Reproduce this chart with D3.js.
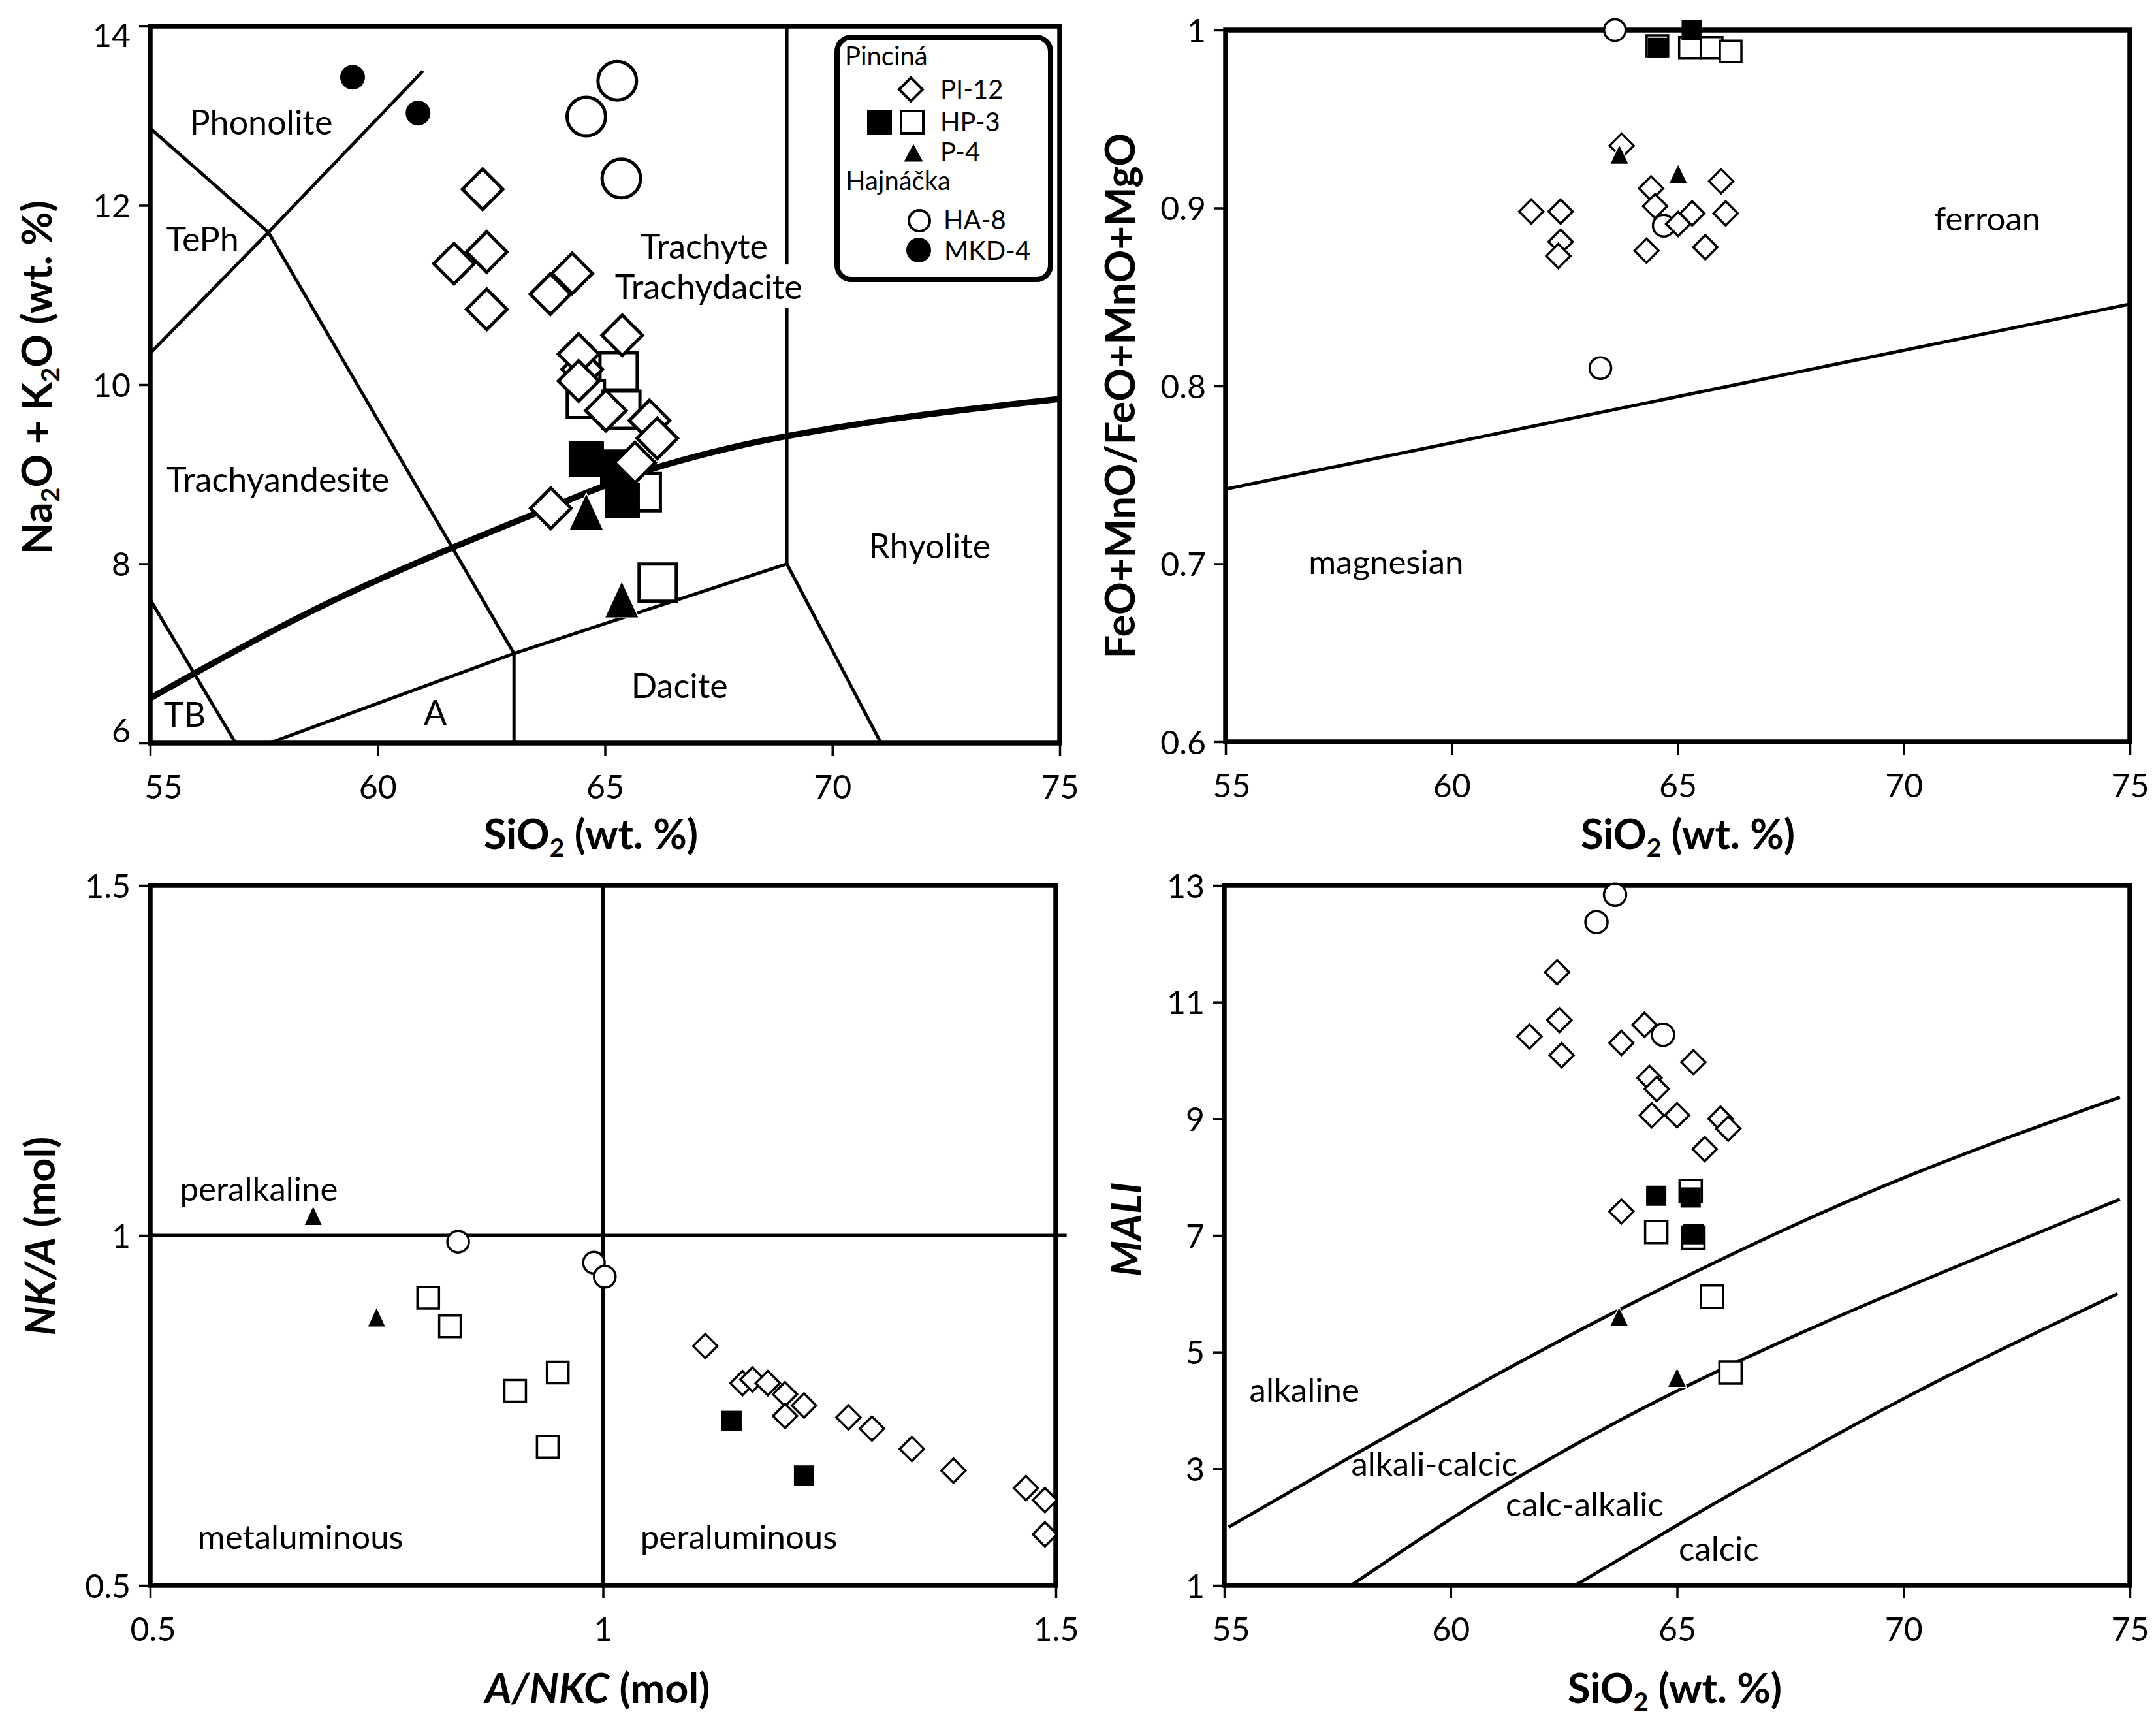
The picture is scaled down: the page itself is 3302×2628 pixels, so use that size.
<!DOCTYPE html>
<html><head><meta charset="utf-8">
<script src="https://cdn.jsdelivr.net/npm/d3@7"></script>
<style>
body{margin:0;background:#fff}
text{font-family:Lato,'Open Sans',sans-serif;fill:#000}
</style>
</head><body>
<script>
// ================= DATA =================
const sio2Ticks = [55, 60, 65, 70, 75];
const tasYTicks = [6, 8, 10, 12, 14];
const feYTicks = [0.6, 0.7, 0.8, 0.9, 1];
const asiTicks = [0.5, 1, 1.5];
const maliYTicks = [1, 3, 5, 7, 9, 11, 13];

// --- Panel A: TAS (SiO2 vs Na2O+K2O) ---
const tasPI12 = [[64.50,10.17],[62.31,12.18],[62.40,11.48],[61.68,11.35],[62.40,10.84],[63.80,11.01],[64.28,11.24],
  [65.38,10.55],[64.42,10.34],[64.42,10.04],[65.02,9.71],[65.98,9.60],[66.15,9.40],[65.66,9.13],[63.81,8.62]];
const tasHP3Open = [[65.30,10.15],[64.58,9.84],[65.36,9.72],[65.81,8.80],[66.16,7.79]];
const tasHP3Filled = [[64.59,9.17],[65.28,9.08],[65.38,8.71]];
const tasP4 = [[64.59,8.58],[65.37,7.60]];
const tasHA8 = [[65.27,13.39],[64.59,12.99],[65.36,12.30]];
const tasMKD4 = [[59.45,13.43],[60.89,13.03]];
const tasBoundaries = [
  [[55,12.86],[57.6,11.7],[63,7]],
  [[55,10.35],[57.6,11.7],[61,13.5]],
  [[55,7.6],[56.88,6]],
  [[57.62,6],[63,7],[69,8],[71.07,6]],
  [[63,6],[63,7]],
  [[69,8],[69,14]]
];
const tasAlkalineCurve = [[55,6.5],[57,7.07],[59,7.6],[61.57,8.17],[63.18,8.5],[64.61,8.8],[66.06,9.08],[67.92,9.32],[69.02,9.43],[71.46,9.64],[75,9.84]];
const tasFieldLabels = [
  ["Phonolite",57.44,12.93],["TePh",56.15,11.62],["Trachyte",67.18,11.54],["Trachydacite",67.28,11.09],
  ["Trachyandesite",57.81,8.94],["Rhyolite",72.14,8.20],["Dacite",66.64,6.64],["A",61.27,6.34],["TB",55.76,6.32]
];

// --- Panel B: Fe-number ---
const fePI12 = [[63.76,0.935],[61.76,0.898],[62.41,0.898],[62.41,0.881],[62.36,0.873],[64.41,0.911],[64.50,0.901],
  [64.31,0.876],[65.01,0.891],[65.32,0.897],[65.61,0.878],[65.96,0.915],[66.06,0.897]];
const feHP3Open = [[64.55,0.991],[65.27,0.990],[65.75,0.990],[66.17,0.988]];
const feHP3Filled = [[64.56,0.990],[65.31,1.000]];
const feP4 = [[63.71,0.930],[65.01,0.919]];
const feHA8 = [[63.61,1.000],[64.69,0.890],[63.29,0.810]];
const feBoundary = [[55,0.742],[75,0.846]];
const feFieldLabels = [["ferroan",71.85,0.894],["magnesian",58.55,0.701]];

// --- Panel C: A/NKC vs NK/A ---
const asiPI12 = [[1.113,0.842],[1.154,0.789],[1.165,0.794],[1.182,0.789],[1.201,0.773],[1.201,0.742],[1.222,0.757],
  [1.271,0.740],[1.297,0.724],[1.341,0.695],[1.387,0.664],[1.467,0.639],[1.488,0.622],[1.488,0.573]];
const asiHP3Open = [[0.807,0.911],[0.831,0.870],[0.950,0.804],[0.903,0.778],[0.939,0.698]];
const asiHP3Filled = [[1.142,0.735],[1.222,0.657]];
const asiP4 = [[0.680,1.028],[0.750,0.883]];
const asiHA8 = [[0.840,0.991],[0.990,0.961],[1.002,0.941]];
const asiBoundaries = [[[0.5,1],[1.512,1]],[[1,0.5],[1,1.5]]];
const asiFieldLabels = [["peralkaline",0.620,1.067],["metaluminous",0.666,0.569],["peraluminous",1.150,0.569]];

// --- Panel D: MALI ---
const maliPI12 = [[62.35,11.51],[62.40,10.69],[61.74,10.41],[62.45,10.09],[63.77,10.30],[64.28,10.61],[65.36,9.97],
  [64.39,9.70],[64.55,9.51],[64.44,9.06],[65.00,9.06],[65.96,9.00],[66.13,8.83],[65.61,8.48],[63.77,7.41]];
const maliHP3Open = [[65.30,7.76],[65.36,6.96],[64.54,7.06],[65.77,5.95],[66.18,4.65]];
const maliHP3Filled = [[64.54,7.68],[65.30,7.65],[65.36,7.02]];
const maliP4 = [[63.72,5.60],[65.00,4.56]];
const maliHA8 = [[63.63,12.84],[63.22,12.37],[64.69,10.44]];
const maliBoundaries = [
  [[55.1,2.0],[58,3.3],[60.5,4.4],[63,5.45],[65.5,6.42],[68,7.33],[70,8.0],[72.5,8.74],[74.78,9.37]],
  [[57.8,1.0],[60.5,2.42],[63.1,3.58],[65.3,4.47],[68.2,5.5],[70.8,6.35],[74.78,7.62]],
  [[62.75,1.0],[65.66,2.34],[68.24,3.47],[70.81,4.55],[74.73,6.0]]
];
const maliFieldLabels = [["alkaline",56.77,4.35],["alkali-calcic",59.64,3.09],["calc-alkalic",62.96,2.39],["calcic",65.92,1.63]];

// ================= DRAWING =================
const svg = d3.select('body').append('svg').attr('width',3302).attr('height',2628);
svg.append('rect').attr('width',3302).attr('height',2628).attr('fill','#fff');

const shapes = {
  diamond: h => `M0,${-h}L${h},0L0,${h}L${-h},0Z`,
  square: s => `M${-s/2},${-s/2}h${s}v${s}h${-s}Z`,
  triangle: (w,h) => `M0,${-h/2}L${w/2},${h/2}L${-w/2},${h/2}Z`
};

function rich(sel, parts){
  parts.forEach(p=>{
    const ts = sel.append('tspan').text(p.t);
    if(p.sub){ ts.attr('font-size','0.62em').attr('dy', p.dy); }
    if(p.back){ ts.attr('dy', -p.back); }
    if(p.it){ ts.attr('font-style','italic'); }
  });
}

function panel(cfg){
  const {L,T,R,B} = cfg.box;
  const x = d3.scaleLinear().domain(cfg.xDomain).range([L,R]);
  const y = d3.scaleLinear().domain(cfg.yDomain).range([B,T]);
  const g = svg.append('g');
  svg.append('clipPath').attr('id','clip'+cfg.id).append('rect')
    .attr('x',L).attr('y',T).attr('width',R-L+(cfg.clipExtra||0)).attr('height',B-T);
  const content = g.append('g').attr('clip-path',`url(#clip${cfg.id})`);
  const labels = g.append('g');
  const frame = g.append('g');
  const marks = g.append('g');

  const ax = frame.append('g').attr('transform',`translate(0,${B})`)
    .call(d3.axisBottom(x).tickValues(cfg.xTicks).tickSize(20).tickFormat(d=>String(d)));
  ax.select('.domain').remove();
  ax.selectAll('line').attr('stroke','#000').attr('stroke-width',3.5);
  ax.selectAll('text').attr('y',85).attr('dy',0).style('font-size','50px')
    .attr('dx', d => (cfg.xShift && cfg.xShift[d]) || 0);
  const ay = frame.append('g').attr('transform',`translate(${L},0)`)
    .call(d3.axisLeft(y).tickValues(cfg.yTicks).tickSize(17).tickFormat(d=>String(d)));
  ay.select('.domain').remove();
  ay.selectAll('line').attr('stroke','#000').attr('stroke-width',3.5);
  ay.selectAll('text').attr('x',-30).attr('dy','0.36em').style('font-size','50px')
    .attr('y', d => (cfg.yShift && cfg.yShift[d]) || 0);
  frame.append('rect').attr('x',L).attr('y',T).attr('width',R-L).attr('height',B-T)
    .attr('fill','none').attr('stroke','#000').attr('stroke-width',7.5);

  const xt = g.append('text').attr('x',cfg.xTitle.x).attr('y',cfg.xTitle.y)
    .attr('text-anchor','middle').style('font-size','63px').style('font-weight','bold');
  rich(xt, cfg.xTitle.parts);
  const yt = g.append('text').attr('transform',`translate(${cfg.yTitle.x},${cfg.yTitle.y}) rotate(-90)`)
    .attr('text-anchor','middle').style('font-size','63px').style('font-weight','bold');
  rich(yt, cfg.yTitle.parts);

  const line = d3.line().x(d=>x(d[0])).y(d=>y(d[1]));
  const smooth = d3.line().x(d=>x(d[0])).y(d=>y(d[1])).curve(d3.curveBasis);
  return {x,y,content,labels,marks,line,smooth};
}

function drawMarks(P, sz){
  const {x,y,marks} = P;
  const mk = (data, fn) => data.forEach(d => fn(marks.append('g').attr('transform',`translate(${x(d[0])},${y(d[1])})`)));
  const sw = sz.sw;
  mk(sz.hp3o, g => g.append('path').attr('d',shapes.square(sz.sqO)).attr('fill','#fff').attr('stroke','#000').attr('stroke-width',sw));
  mk(sz.hp3f, g => g.append('path').attr('d',shapes.square(sz.sqF)).attr('fill','#000'));
  mk(sz.ha8, g => g.append('circle').attr('r',sz.cr).attr('fill','#fff').attr('stroke','#000').attr('stroke-width',sw));
  if(sz.mkd) mk(sz.mkd, g => g.append('circle').attr('r',sz.fcr).attr('fill','#000'));
  mk(sz.pi12, g => g.append('path').attr('d',shapes.diamond(sz.dh)).attr('fill','#fff').attr('stroke','#000').attr('stroke-width',sw));
  mk(sz.p4, g => g.append('path').attr('d',shapes.triangle(sz.tw,sz.th)).attr('fill','#000')
    .attr('stroke','#fff').attr('stroke-width',3).attr('paint-order','stroke'));
}

function fieldLabels(P, arr, size){
  arr.forEach(([t,vx,vy]) => {
    P.labels.append('text').attr('x',P.x(vx)).attr('y',P.y(vy)).attr('dy','0.36em')
      .attr('text-anchor','middle').style('font-size',size+'px').text(t);
  });
}

// ---------- Panel A ----------
const PA = panel({id:'A', box:{L:230,T:40,R:1623,B:1138}, xDomain:[55,75], yDomain:[6,14],
  xTicks:sio2Ticks, yTicks:tasYTicks, xShift:{55:20}, yShift:{14:13, 6:-20},
  xTitle:{x:905,y:1300,parts:[{t:'SiO'},{t:'2',sub:true,dy:12},{t:' (wt. %)',back:12}]},
  yTitle:{x:79,y:578,parts:[{t:'Na'},{t:'2',sub:true,dy:12},{t:'O + K',back:12},{t:'2',sub:true,dy:12},{t:'O (wt. %)',back:12}]}
});
tasBoundaries.forEach(seg => PA.content.append('path').attr('d',PA.line(seg)).attr('fill','none').attr('stroke','#000').attr('stroke-width',5));
PA.content.append('path').attr('d',PA.smooth(tasAlkalineCurve)).attr('fill','none').attr('stroke','#000').attr('stroke-width',9.5);
tasFieldLabels.forEach(([t,vx,vy]) => {
  const tx = PA.labels.append('text').attr('x',PA.x(vx)).attr('y',PA.y(vy)).attr('dy','0.36em')
    .attr('text-anchor','middle').style('font-size','52px').text(t);
  if(t==='Trachydacite'){
    const bb = tx.node().getBBox();
    PA.labels.insert('rect','text').attr('x',bb.x-4).attr('y',bb.y-2).attr('width',bb.width+8).attr('height',bb.height+4).attr('fill','#fff');
  }
});
drawMarks(PA, {sw:5, sqO:57, sqF:54, cr:29.5, fcr:19, dh:31, tw:50, th:54,
  pi12:tasPI12, hp3o:tasHP3Open, hp3f:tasHP3Filled, p4:tasP4, ha8:tasHA8, mkd:tasMKD4});

// Legend (panel A)
const lg = svg.append('g');
lg.append('rect').attr('x',1282).attr('y',57).attr('width',327).attr('height',371).attr('rx',22)
  .attr('fill','#fff').attr('stroke','#000').attr('stroke-width',8);
const legText = (t,x,y)=>lg.append('text').attr('x',x).attr('y',y).style('font-size','40px').text(t);
legText('Pinciná',1294,100);
lg.append('path').attr('transform','translate(1395,137)').attr('d',shapes.diamond(18)).attr('fill','#fff').attr('stroke','#000').attr('stroke-width',4);
legText('PI-12',1440,151);
lg.append('path').attr('transform','translate(1347,187)').attr('d',shapes.square(38)).attr('fill','#000');
lg.append('path').attr('transform','translate(1397,187)').attr('d',shapes.square(34)).attr('fill','#fff').attr('stroke','#000').attr('stroke-width',4);
legText('HP-3',1440,201);
lg.append('path').attr('transform','translate(1399,234)').attr('d',shapes.triangle(29,27)).attr('fill','#000');
legText('P-4',1440,247);
legText('Hajnáčka',1295,291);
lg.append('circle').attr('cx',1408).attr('cy',338).attr('r',16).attr('fill','#fff').attr('stroke','#000').attr('stroke-width',4);
legText('HA-8',1445,351);
lg.append('circle').attr('cx',1407).attr('cy',383).attr('r',19).attr('fill','#000');
legText('MKD-4',1446,398);

// ---------- Panel B ----------
const PB = panel({id:'B', box:{L:1877,T:46,R:3262,B:1136}, xDomain:[55,75], yDomain:[0.6,1],
  xTicks:sio2Ticks, yTicks:feYTicks, xShift:{55:9},
  xTitle:{x:2585,y:1300,parts:[{t:'SiO'},{t:'2',sub:true,dy:12},{t:' (wt. %)',back:12}]},
  yTitle:{x:1738,y:606,parts:[{t:'FeO+MnO/FeO+MnO+MgO'}]}
});
PB.content.append('path').attr('d',PB.line(feBoundary)).attr('fill','none').attr('stroke','#000').attr('stroke-width',5);
fieldLabels(PB, feFieldLabels, 51);
drawMarks(PB, {sw:3.5, sqO:33, sqF:31, cr:16.5, dh:18.5, tw:27, th:28,
  pi12:fePI12, hp3o:feHP3Open, hp3f:feHP3Filled, p4:feP4, ha8:feHA8});

// ---------- Panel C ----------
const PC = panel({id:'C', box:{L:230,T:1356,R:1617,B:2428}, xDomain:[0.5,1.5], yDomain:[0.5,1.5],
  xTicks:asiTicks, yTicks:asiTicks, xShift:{0.5:4}, clipExtra:20,
  xTitle:{x:915,y:2608,parts:[{t:'A/NKC',it:true},{t:' (mol)'}]},
  yTitle:{x:84,y:1893,parts:[{t:'NK/A',it:true},{t:' (mol)'}]}
});
asiBoundaries.forEach(seg => PC.content.append('path').attr('d',PC.line(seg)).attr('fill','none').attr('stroke','#000').attr('stroke-width',5));
fieldLabels(PC, asiFieldLabels, 51);
drawMarks(PC, {sw:3.5, sqO:33, sqF:31, cr:16.5, dh:18.5, tw:26, th:28,
  pi12:asiPI12, hp3o:asiHP3Open, hp3f:asiHP3Filled, p4:asiP4, ha8:asiHA8});

// ---------- Panel D ----------
const PD = panel({id:'D', box:{L:1875,T:1356,R:3262,B:2428}, xDomain:[55,75], yDomain:[1,13],
  xTicks:sio2Ticks, yTicks:maliYTicks, xShift:{55:10},
  xTitle:{x:2565,y:2608,parts:[{t:'SiO'},{t:'2',sub:true,dy:12},{t:' (wt. %)',back:12}]},
  yTitle:{x:1748,y:1883,parts:[{t:'MALI',it:true}]}
});
maliBoundaries.forEach(seg => PD.content.append('path').attr('d',PD.smooth(seg)).attr('fill','none').attr('stroke','#000').attr('stroke-width',5));
fieldLabels(PD, maliFieldLabels, 51);
drawMarks(PD, {sw:3.5, sqO:34, sqF:31, cr:17, dh:18.5, tw:27, th:28,
  pi12:maliPI12, hp3o:maliHP3Open, hp3f:maliHP3Filled, p4:maliP4, ha8:maliHA8});
</script>
</body></html>
